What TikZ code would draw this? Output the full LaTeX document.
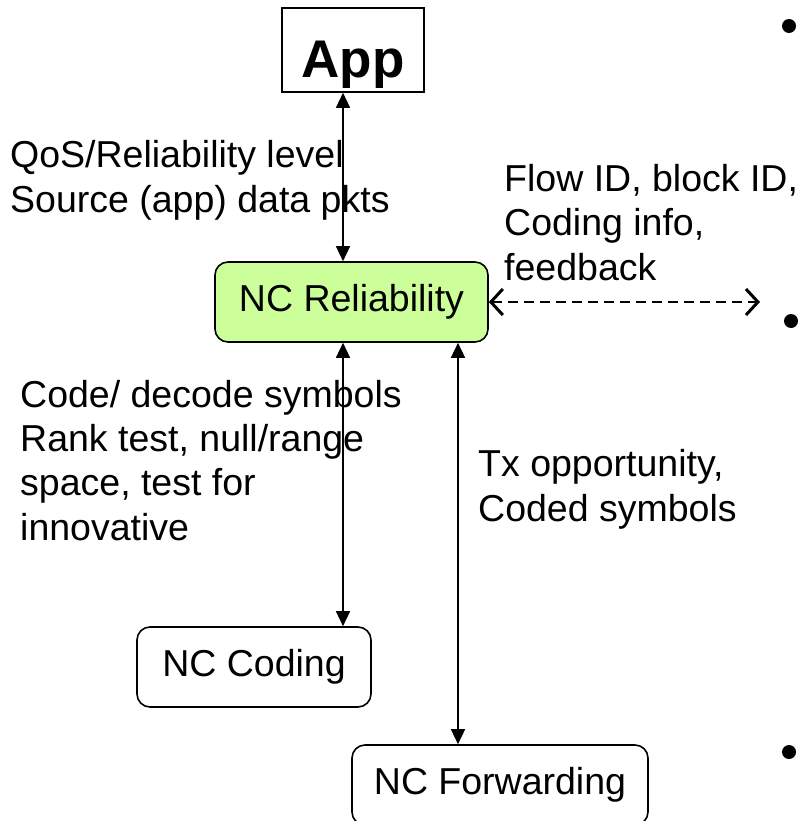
\documentclass[tikz,border=0pt]{standalone}
\usepackage{fontspec}
\setmainfont{Liberation Sans}
\usetikzlibrary{arrows.meta}
\begin{document}
\begin{tikzpicture}[x=1pt,y=-1pt,
  lbl/.style={anchor=base west,inner sep=0pt,align=left,font=\fontsize{37.5}{44.3}\selectfont},
  boxnode/.style={draw,line width=1.6pt,rounded corners=13pt,font=\fontsize{37.5}{44.3}\selectfont,inner sep=0pt},
  biarrow/.style={line width=1.4pt,{Triangle[length=15pt,width=14pt]}-{Triangle[length=15pt,width=14pt]}},
  dasharrow/.style={line width=1.5pt,dash pattern=on 10pt off 6pt,{Straight Barb[length=12pt,width=26pt,line width=3pt]}-{Straight Barb[length=12pt,width=26pt,line width=3pt]}},
  bullet/.style={circle,fill=black,inner sep=0pt,minimum size=14pt}]
\useasboundingbox (0,0) rectangle (802,821);
\definecolor{relgreen}{RGB}{204,255,153}
% boxes
\node[draw,line width=1.6pt,inner sep=0pt,minimum width=142pt,minimum height=84pt,text height=56pt,text depth=0pt,font=\fontsize{53}{60}\selectfont\bfseries] (app) at (353,50) {App};
\node[boxnode,fill=relgreen,minimum width=273pt,minimum height=80pt] (ncr) at (351.5,302) {NC Reliability};
\node[boxnode,minimum width=234pt,minimum height=80pt] (ncc) at (254,667) {NC Coding};
\node[boxnode,minimum width=296pt,minimum height=80pt] (ncf) at (500,785) {NC Forwarding};
% labels (anchor = baseline of last line)
\node[lbl] (l1) at (10,212) {QoS/Reliability level\\Source (app) data pkts};
\node[lbl] (l2) at (504,280) {Flow ID, block ID,\\Coding info,\\feedback};
\node[lbl] (l3) at (20,540) {Code/ decode symbols\\Rank test, null/range\\space, test for\\innovative};
\node[lbl] (l4) at (478,521) {Tx opportunity,\\Coded symbols};
% bullets
\node[bullet] (b1) at (789,26) {};
\node[bullet] (b2) at (791,321) {};
\node[bullet] (b3) at (789,752) {};
% connectors
\coordinate (xa) at (343,0);
\coordinate (xb) at (458,0);
\coordinate (dend) at (760,302);
\draw[biarrow] (app.south -| xa) -- (ncr.north -| xa);
\draw[biarrow] (ncr.south -| xa) -- (ncc.north -| xa);
\draw[biarrow] (ncr.south -| xb) -- (ncf.north -| xb);
\draw[dasharrow] (ncr.east) -- (dend);
\end{tikzpicture}
\end{document}
